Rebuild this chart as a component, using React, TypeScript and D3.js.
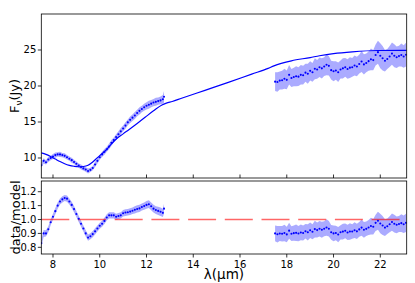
import React from 'react';
import * as d3 from 'd3';

// model spectrum (knots)
const modelWave = [7.5, 7.7, 7.9, 8.1, 8.3, 8.5, 8.7, 8.9, 9.1, 9.3, 9.5, 9.7, 9.9, 10.1, 10.3, 10.5, 10.66, 11.0, 11.23, 11.6, 11.94, 12.3, 12.66, 12.85, 13.1, 13.5, 14.5, 15.5, 16.5, 17.2, 17.45, 18.2, 19.0, 19.4, 20.0, 20.8, 21.9, 23.13];
const modelFlux = [10.7, 10.5, 10.2, 9.85, 9.5, 9.2, 8.98, 8.85, 8.78, 8.82, 9.0, 9.45, 10.05, 10.6, 11.2, 11.95, 12.5, 13.35, 13.9, 14.8, 15.65, 16.55, 17.36, 17.62, 17.85, 18.3, 19.4, 20.5, 21.65, 22.45, 22.8, 23.5, 23.95, 24.2, 24.5, 24.75, 24.93, 24.95];

// short-wavelength segment
const swWave = [7.5, 7.6, 7.7, 7.8, 7.9, 8.0, 8.1, 8.2, 8.3, 8.4, 8.5, 8.6, 8.7, 8.8, 8.9, 9.0, 9.1, 9.2, 9.3, 9.4, 9.5, 9.6, 9.7, 9.8, 9.9, 10.0, 10.1, 10.2, 10.3, 10.4, 10.5, 10.6, 10.7, 10.8, 10.9, 11.0, 11.1, 11.2, 11.3, 11.4, 11.5, 11.6, 11.7, 11.8, 11.9, 12.0, 12.1, 12.2, 12.3, 12.4, 12.5, 12.6, 12.7, 12.75];
const swFlux = [9.0, 9.6, 9.4, 9.8, 10.0, 10.2, 10.4, 10.5, 10.5, 10.4, 10.3, 10.1, 9.9, 9.7, 9.45, 9.2, 8.95, 8.75, 8.55, 8.4, 8.2, 8.35, 8.6, 9.1, 9.6, 10.1, 10.5, 10.85, 11.2, 11.6, 12.1, 12.5, 12.9, 13.3, 13.7, 14.1, 14.5, 14.95, 15.3, 15.6, 15.9, 16.25, 16.55, 16.8, 17.05, 17.25, 17.4, 17.55, 17.7, 17.8, 17.9, 18.0, 18.15, 18.5];
const swErr = [0.35, 0.35, 0.3, 0.35, 0.3, 0.35, 0.35, 0.3, 0.35, 0.3, 0.35, 0.3, 0.3, 0.35, 0.3, 0.3, 0.3, 0.35, 0.3, 0.3, 0.35, 0.3, 0.3, 0.35, 0.35, 0.35, 0.35, 0.4, 0.35, 0.4, 0.4, 0.35, 0.4, 0.4, 0.45, 0.4, 0.45, 0.4, 0.45, 0.45, 0.5, 0.45, 0.5, 0.45, 0.5, 0.5, 0.55, 0.5, 0.5, 0.55, 0.5, 0.55, 0.6, 0.8];
const swRatio = [0.83, 0.9, 0.9, 0.93, 0.98, 1.02, 1.06, 1.1, 1.13, 1.145, 1.155, 1.15, 1.13, 1.105, 1.075, 1.04, 1.005, 0.97, 0.935, 0.9, 0.87, 0.88, 0.895, 0.915, 0.935, 0.955, 0.97, 0.99, 1.015, 1.03, 1.03, 1.03, 1.02, 1.025, 1.03, 1.045, 1.05, 1.052, 1.057, 1.063, 1.07, 1.076, 1.08, 1.09, 1.097, 1.105, 1.11, 1.095, 1.078, 1.068, 1.062, 1.056, 1.048, 1.078];
const swRatioErr = [0.025, 0.025, 0.022, 0.022, 0.022, 0.022, 0.022, 0.022, 0.022, 0.022, 0.022, 0.022, 0.022, 0.022, 0.022, 0.022, 0.022, 0.022, 0.022, 0.022, 0.022, 0.022, 0.022, 0.022, 0.022, 0.022, 0.022, 0.022, 0.022, 0.022, 0.022, 0.022, 0.022, 0.022, 0.022, 0.024, 0.024, 0.024, 0.024, 0.024, 0.026, 0.026, 0.026, 0.026, 0.026, 0.028, 0.028, 0.028, 0.028, 0.028, 0.03, 0.03, 0.03, 0.035];

// long-wavelength segment
const lwWave = [17.5, 17.6, 17.7, 17.8, 17.9, 18.0, 18.1, 18.2, 18.3, 18.4, 18.5, 18.6, 18.7, 18.8, 18.9, 19.0, 19.1, 19.2, 19.3, 19.4, 19.5, 19.6, 19.7, 19.8, 19.9, 20.0, 20.1, 20.2, 20.3, 20.4, 20.5, 20.6, 20.7, 20.8, 20.9, 21.0, 21.1, 21.2, 21.3, 21.4, 21.5, 21.6, 21.7, 21.8, 21.9, 22.0, 22.1, 22.2, 22.3, 22.4, 22.5, 22.6, 22.7, 22.8, 22.9, 23.0, 23.1];
const lwFlux = [20.6, 20.55, 20.75, 20.8, 21.0, 20.85, 21.55, 21.1, 21.25, 21.35, 21.3, 21.55, 21.5, 21.85, 21.7, 22.1, 21.9, 22.4, 22.3, 22.6, 22.45, 22.7, 22.95, 22.8, 22.2, 22.05, 22.15, 21.9, 22.3, 22.45, 22.6, 22.35, 22.55, 22.6, 22.85, 22.7, 23.05, 23.4, 23.0, 23.2, 23.45, 23.7, 23.6, 24.3, 24.7, 24.2, 23.85, 23.5, 23.75, 24.1, 24.5, 24.2, 24.0, 24.15, 24.3, 24.1, 24.35];
const lwErr = [1.3, 1.35, 1.25, 1.3, 1.4, 1.3, 1.35, 1.25, 1.3, 1.4, 1.3, 1.35, 1.3, 1.25, 1.4, 1.35, 1.3, 1.45, 1.3, 1.35, 1.4, 1.3, 1.45, 1.35, 1.3, 1.4, 1.3, 1.35, 1.25, 1.4, 1.3, 1.35, 1.45, 1.3, 1.4, 1.35, 1.3, 1.45, 1.4, 1.3, 1.35, 1.5, 1.4, 1.45, 1.6, 1.75, 1.7, 1.5, 1.4, 1.45, 1.55, 1.6, 1.5, 1.45, 1.6, 1.55, 1.65];
const lwRatio = [0.9, 0.894, 0.899, 0.898, 0.903, 0.893, 0.92, 0.898, 0.902, 0.904, 0.899, 0.907, 0.903, 0.916, 0.908, 0.923, 0.912, 0.931, 0.924, 0.934, 0.926, 0.934, 0.943, 0.934, 0.908, 0.9, 0.903, 0.892, 0.908, 0.913, 0.919, 0.907, 0.914, 0.914, 0.923, 0.915, 0.929, 0.942, 0.926, 0.933, 0.943, 0.953, 0.948, 0.976, 0.991, 0.971, 0.957, 0.942, 0.952, 0.966, 0.982, 0.97, 0.962, 0.968, 0.974, 0.966, 0.976];

const xTicks = [8, 10, 12, 14, 16, 18, 20, 22];
const fluxTicks = [10, 15, 20, 25];
const ratioTicks = [0.8, 0.9, 1.0, 1.1, 1.2];

const W = 415;
const H = 283;
const left = 41.3;
const right = 406.7;
const top1 = 14, bot1 = 178;
const top2 = 181, bot2 = 254;
const font = 'DejaVu Sans, sans-serif';
const blue = '#0000ff';

type Pt = { w: number; v: number; e: number };

export default function App() {
  const x = d3.scaleLinear().domain([7.5, 23.13]).range([left, right]);
  const yF = d3.scaleLinear().domain([7.22, 30]).range([bot1, top1]);
  const yR = d3.scaleLinear().domain([0.752, 1.277]).range([bot2, top2]);

  const sw: Pt[] = swWave.map((w, i) => ({ w, v: swFlux[i], e: swErr[i] }));
  const lw: Pt[] = lwWave.map((w, i) => ({ w, v: lwFlux[i], e: lwErr[i] }));
  const swR: Pt[] = swWave.map((w, i) => ({ w, v: swRatio[i], e: swRatioErr[i] }));
  // ratio error follows the relative flux error
  const lwR: Pt[] = lwWave.map((w, i) => ({ w, v: lwRatio[i], e: lwRatio[i] * lwErr[i] / lwFlux[i] }));

  const bandF = d3.area<Pt>().x(d => x(d.w)).y0(d => yF(d.v - d.e)).y1(d => yF(d.v + d.e));
  const bandR = d3.area<Pt>().x(d => x(d.w)).y0(d => yR(d.v - d.e)).y1(d => yR(d.v + d.e));
  const model = d3.line<number>()
    .x((_, i) => x(modelWave[i]))
    .y(d => yF(d))
    .curve(d3.curveMonotoneX);

  const dots = (pts: Pt[], y: d3.ScaleLinear<number, number>) =>
    pts.map((d, i) => <circle key={i} cx={x(d.w)} cy={y(d.v)} r={1.05} fill={blue} />);

  return (
    <svg width={W} height={H} style={{ position: 'absolute', left: 0, top: 0, background: '#fff' }}
      fontFamily={font}>
      <defs>
        <clipPath id="c1"><rect x={left} y={top1} width={right - left} height={bot1 - top1} /></clipPath>
        <clipPath id="c2"><rect x={left} y={top2} width={right - left} height={bot2 - top2} /></clipPath>
      </defs>

      {/* top panel */}
      <g clipPath="url(#c1)">
        <path d={bandF(sw) || ''} fill={blue} fillOpacity={0.33} />
        <path d={bandF(lw) || ''} fill={blue} fillOpacity={0.33} />
        <path d={model(modelFlux) || ''} fill="none" stroke={blue} strokeWidth={1.2} />
        {dots(sw, yF)}
        {dots(lw, yF)}
      </g>
      <rect x={left} y={top1} width={right - left} height={bot1 - top1} fill="none" stroke="#000" strokeWidth={0.8} />
      {xTicks.map(t => (
        <line key={t} x1={x(t)} x2={x(t)} y1={bot1} y2={bot1 - 3.5} stroke="#000" strokeWidth={0.8} />
      ))}
      {fluxTicks.map(t => (
        <g key={t}>
          <line x1={left - 3.5} x2={left} y1={yF(t)} y2={yF(t)} stroke="#000" strokeWidth={0.8} />
          <text x={left - 5} y={yF(t)} dy="0.35em" textAnchor="end" fontSize={10}>{t}</text>
        </g>
      ))}
      <text transform={`translate(19,${(top1 + bot1) / 2}) rotate(-90)`} textAnchor="middle" fontSize={13}>
        F<tspan fontSize={9} dy={3}>ν</tspan><tspan dy={-3}>(Jy)</tspan>
      </text>

      {/* bottom panel */}
      <g clipPath="url(#c2)">
        <path d={bandR(swR) || ''} fill={blue} fillOpacity={0.33} />
        <path d={bandR(lwR) || ''} fill={blue} fillOpacity={0.33} />
        <line x1={left} x2={right} y1={yR(1)} y2={yR(1)} stroke="#ff0000" strokeOpacity={0.6}
          strokeWidth={1.5} strokeDasharray="28 8.7" />
        {dots(swR, yR)}
        {dots(lwR, yR)}
      </g>
      <rect x={left} y={top2} width={right - left} height={bot2 - top2} fill="none" stroke="#000" strokeWidth={0.8} />
      {xTicks.map(t => (
        <g key={t}>
          <line x1={x(t)} x2={x(t)} y1={bot2} y2={bot2 + 3.5} stroke="#000" strokeWidth={0.8} />
          <text x={x(t)} y={bot2 + 14} textAnchor="middle" fontSize={10}>{t}</text>
        </g>
      ))}
      {ratioTicks.map(t => (
        <g key={t}>
          <line x1={left - 3.5} x2={left} y1={yR(t)} y2={yR(t)} stroke="#000" strokeWidth={0.8} />
          <text x={left - 5} y={yR(t)} dy="0.35em" textAnchor="end" fontSize={10}>{d3.format('.1f')(t)}</text>
        </g>
      ))}
      <text transform={`translate(20,${(top2 + bot2) / 2}) rotate(-90)`} textAnchor="middle" fontSize={13}>
        data/model
      </text>
      <text x={(left + right) / 2} y={279} textAnchor="middle" fontSize={13.5}>λ(μm)</text>
    </svg>
  );
}
